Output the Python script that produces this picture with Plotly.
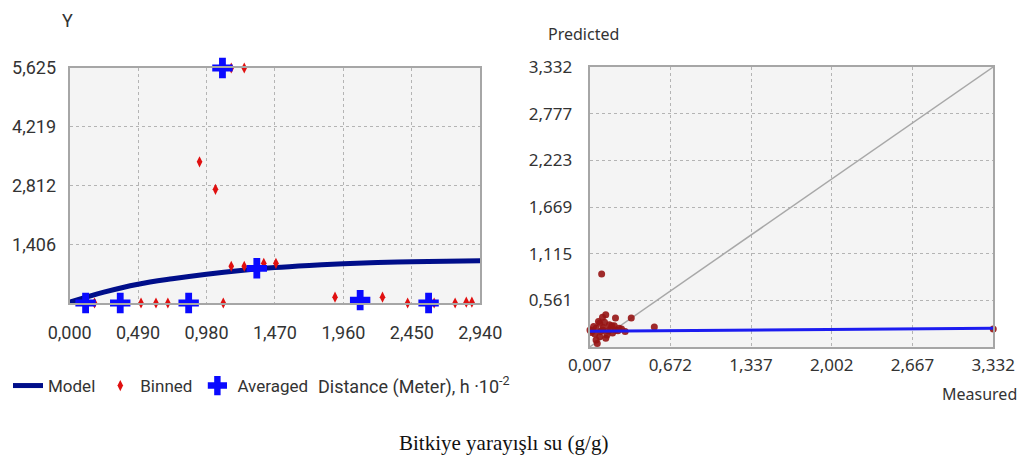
import plotly.graph_objects as go

# ---------------- data: left semivariogram ----------------
model_x = [0.0, 0.245, 0.49, 0.735, 0.98, 1.225, 1.47, 1.715, 1.96, 2.205, 2.45, 2.695, 2.94]
model_y = [0.02, 0.26, 0.45, 0.58, 0.69, 0.78, 0.85, 0.90, 0.94, 0.97, 0.99, 1.00, 1.01]

binned_x = [0.178, 0.511, 0.618, 0.703, 0.930, 1.044, 1.10, 1.157, 1.25, 1.157, 1.25, 1.39, 1.477,
            1.90, 2.24, 2.42, 2.61, 2.76, 2.84, 2.88]
binned_y = [0.0, 0.0, 0.0, 0.0, 3.38, 2.72, 0.0, 5.625, 5.625, 0.88, 0.88, 0.95, 0.95,
            0.14, 0.14, 0.0, 0.0, 0.0, 0.02, 0.02]

avg_x = [0.114, 0.362, 0.852, 1.094, 1.34, 2.08, 2.57]
avg_y = [0.0, 0.0, 0.0, 5.625, 0.83, 0.07, 0.0]

left_xticks = [0.0, 0.49, 0.98, 1.47, 1.96, 2.45, 2.94]
left_yticks = [1.406, 2.812, 4.219, 5.625]

# ---------------- data: right cross-validation ----------------
measured = [0.14, 0.113, 0.22, 0.35, 0.09, 0.17, 0.06, 0.01, 0.113, 0.22, 0.30, 0.54, 0.09, 0.14,
            0.06, 0.196, 0.25, 0.106, 0.04, 0.03, 0.08, 0.12, 0.16, 0.19, 0.27, 0.02, 0.05, 0.10,
            0.13, 0.18, 0.21, 0.24, 0.07, 0.15, 3.332]
predicted = [0.39, 0.36, 0.35, 0.35, 0.29, 0.27, 0.23, 0.21, 0.21, 0.21, 0.19, 0.245, 0.13, 0.11,
             0.09, 0.173, 0.23, 0.874, 0.25, 0.20, 0.31, 0.24, 0.20, 0.26, 0.22, 0.18, 0.16, 0.19,
             0.30, 0.22, 0.26, 0.20, 0.05, 0.15, 0.22]
fit_x = [0.007, 3.332]
fit_y = [0.195, 0.23]
ref_x = [0.007, 3.332]
ref_y = [0.007, 3.332]
right_ticks = [0.007, 0.672, 1.337, 2.002, 2.667, 3.332]
right_yticks = [0.561, 1.115, 1.669, 2.223, 2.777, 3.332]

W, H = 1027, 463
OFF = 8  # page body margin
def px_x(v): return (v - OFF) / W
def px_y(v): return (H - (v - OFF)) / H

narrow = "Roboto, Liberation Sans, sans-serif"
sans = "Noto Sans, Open Sans, sans-serif"

fig = go.Figure()

fig.add_trace(go.Scatter(x=model_x, y=model_y, mode="lines", name="Model",
                         line=dict(color="#000e8a", width=5, shape="spline"),
                         xaxis="x", yaxis="y", cliponaxis=False))
fig.add_trace(go.Scatter(x=binned_x, y=binned_y, mode="markers", name="Binned",
                         marker=dict(symbol="diamond-tall", size=8, color="#e01010"),
                         xaxis="x", yaxis="y", cliponaxis=False))
fig.add_trace(go.Scatter(x=avg_x, y=avg_y, mode="markers", name="Averaged",
                         marker=dict(symbol="cross", size=17, color="#0a0aff"),
                         xaxis="x", yaxis="y", cliponaxis=False))

fig.add_trace(go.Scatter(x=ref_x, y=ref_y, mode="lines", showlegend=False,
                         line=dict(color="#a8a8a8", width=1.5), xaxis="x2", yaxis="y2"))
fig.add_trace(go.Scatter(x=measured, y=predicted, mode="markers", showlegend=False,
                         marker=dict(size=7, color="#961414", opacity=0.9),
                         xaxis="x2", yaxis="y2", cliponaxis=False))
fig.add_trace(go.Scatter(x=fit_x, y=fit_y, mode="lines", showlegend=False,
                         line=dict(color="#1c1cf0", width=3), xaxis="x2", yaxis="y2"))

axis_common = dict(showline=True, mirror=True, linecolor="#a6a6a6", linewidth=2,
                   showgrid=True, gridcolor="#b4b4b4", griddash="dot", gridwidth=1,
                   zeroline=False, tickformat=".3f", automargin=False,
                   tickcolor="rgba(0,0,0,0)")

def note(text, x, y, family, size, xanchor="center", color="#333"):
    return dict(text=text, x=px_x(x), y=px_y(y), xref="paper", yref="paper",
                xanchor=xanchor, yanchor="middle", showarrow=False,
                font=dict(family=family, size=size, color=color))

fig.update_layout(
    width=W, height=H, margin=dict(l=0, r=0, t=0, b=0),
    paper_bgcolor="white", plot_bgcolor="#f4f4f4",
    separators=", ",
    xaxis=dict(domain=[px_x(64), px_x(477)], range=[0, 2.94], tickvals=left_xticks,
               anchor="y", tickfont=dict(family=narrow, size=18, color="#333"),
               ticks="outside", ticklen=12, **axis_common),
    yaxis=dict(domain=[px_y(303), px_y(68)], range=[0, 5.625], tickvals=left_yticks,
               anchor="x", tickfont=dict(family=narrow, size=18, color="#333"),
               ticks="outside", ticklen=8, **axis_common),
    xaxis2=dict(domain=[px_x(587), px_x(993)], range=[0.007, 3.332], tickvals=right_ticks,
                anchor="y2", tickfont=dict(family=sans, size=17, color="#333"),
                ticks="outside", ticklen=2, **axis_common),
    yaxis2=dict(domain=[px_y(347), px_y(67)], range=[0.007, 3.332], tickvals=right_yticks,
                anchor="x2", tickfont=dict(family=sans, size=17, color="#333"),
                ticks="outside", ticklen=12, **axis_common),
    legend=dict(orientation="h", x=-0.006, y=px_y(386), xanchor="left", yanchor="middle",
                font=dict(family=narrow, size=17, color="#333"), bgcolor="rgba(0,0,0,0)",
                itemwidth=30, tracegroupgap=0),
    annotations=[
        note("Y", 62, 20, narrow, 18),
        note("Distance (Meter), h ·10<sup>-2</sup>", 312, 385, narrow, 18, xanchor="left"),
        note("Predicted", 543, 34, sans, 16, xanchor="left"),
        note("Measured", 1019, 394, sans, 16, xanchor="right"),
        note("Bitkiye yarayışlı su (g/g)", 500, 443,
             "Liberation Serif, Times New Roman, serif", 21, color="#111"),
    ],
)

fig.write_html("out.html")
